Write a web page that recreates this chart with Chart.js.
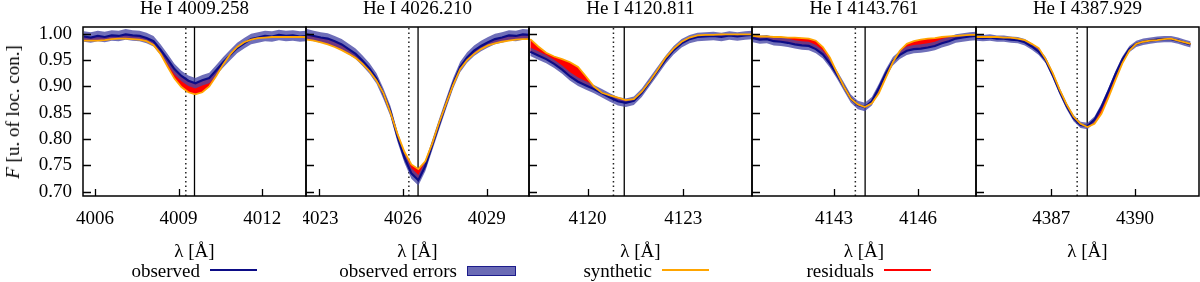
<!DOCTYPE html>
<html>
<head>
<meta charset="utf-8">
<title>He I line profiles</title>
<script src="https://cdn.jsdelivr.net/npm/chart.js@4.4.1/dist/chart.umd.min.js"></script>
<style>
  body { margin: 0; background: #fff; }
  #wrap { position: relative; width: 1200px; height: 282px; overflow: hidden;
          font-family: 'Liberation Serif', 'Times New Roman', serif; color: #000; }
  #wrap canvas { position: absolute; top: 0; }
  .ytitle { position: absolute; left: 13px; top: 112px; font-size: 19px; white-space: nowrap;
            transform: translate(-50%, -50%) rotate(-90deg); }
  .leg-text { position: absolute; top: 261px; font-size: 19px; line-height: 20px; white-space: nowrap; }
  .leg-swatch { position: absolute; width: 47px; }
</style>
</head>
<body>
<div id="wrap">
  <canvas id="p0"></canvas>
  <canvas id="p1"></canvas>
  <canvas id="p2"></canvas>
  <canvas id="p3"></canvas>
  <canvas id="p4"></canvas>
  <div class="ytitle"><i>F</i> [u. of loc. con.]</div>
</div>

<script>
/* ================================================================
   He I line profiles: observed vs synthetic, five panels
   ================================================================ */

// ============ DATA ============
var titles   = ['He I 4009.258', 'He I 4026.210', 'He I 4120.811', 'He I 4143.761', 'He I 4387.929'];
var labLines = [4009.258, 4026.210, 4120.811, 4143.761, 4387.929];
var rvLines  = [4009.57, 4026.54, 4121.15, 4144.11, 4388.29];
var xMins    = [4005.57, 4022.52, 4118.16, 4140.07, 4384.30];
var xMaxs    = [4013.57, 4030.52, 4125.16, 4148.07, 4392.30];
var xTicks   = [[4006, 4009, 4012], [4023, 4026, 4029], [4120, 4123], [4143, 4146], [4387, 4390]];
var yTicks   = [0.70, 0.75, 0.80, 0.85, 0.90, 0.95, 1.00];
var yMin = 0.692, yMax = 1.013;
var obsErr   = [0.010, 0.010, 0.008, 0.008, 0.006];
var legendLabels = ['observed', 'observed errors', 'synthetic', 'residuals'];

var wl4009  = [4005.60, 4005.85, 4006.10, 4006.35, 4006.60, 4006.85, 4007.10, 4007.35, 4007.60, 4007.85, 4008.10,
               4008.35, 4008.60, 4008.85, 4009.10, 4009.35, 4009.60, 4009.85, 4010.10, 4010.35, 4010.60, 4010.85,
               4011.10, 4011.35, 4011.60, 4011.85, 4012.10, 4012.35, 4012.60, 4012.85, 4013.10, 4013.35, 4013.60];
var obs4009 = [0.995, 0.993, 0.996, 0.994, 0.997, 0.996, 0.999, 0.997, 0.996, 0.992, 0.986,
               0.970, 0.952, 0.933, 0.920, 0.911, 0.906, 0.912, 0.916, 0.931, 0.946, 0.960,
               0.973, 0.982, 0.990, 0.993, 0.996, 0.995, 0.998, 0.996, 0.997, 0.995, 0.996];
var syn4009 = [0.987, 0.987, 0.987, 0.988, 0.990, 0.991, 0.991, 0.990, 0.989, 0.986, 0.979,
               0.962, 0.938, 0.915, 0.899, 0.889, 0.885, 0.889, 0.900, 0.920, 0.942, 0.961,
               0.975, 0.984, 0.989, 0.992, 0.993, 0.994, 0.994, 0.994, 0.994, 0.994, 0.994];

var wl4026  = [4022.55, 4022.80, 4023.05, 4023.30, 4023.55, 4023.80, 4024.05, 4024.30, 4024.55, 4024.80, 4025.05,
               4025.30, 4025.55, 4025.80, 4026.05, 4026.30, 4026.55, 4026.80, 4027.05, 4027.30, 4027.55, 4027.80,
               4028.05, 4028.30, 4028.55, 4028.80, 4029.05, 4029.30, 4029.55, 4029.80, 4030.05, 4030.30, 4030.55];
var obs4026 = [0.999, 0.996, 0.993, 0.991, 0.986, 0.980, 0.971, 0.962, 0.949, 0.934, 0.915,
               0.886, 0.853, 0.805, 0.765, 0.735, 0.722, 0.749, 0.789, 0.829, 0.868, 0.906,
               0.937, 0.955, 0.968, 0.977, 0.984, 0.990, 0.993, 0.997, 0.996, 0.999, 0.998];
var syn4026 = [0.989, 0.987, 0.984, 0.980, 0.975, 0.969, 0.962, 0.954, 0.943, 0.929, 0.911,
               0.887, 0.850, 0.810, 0.776, 0.752, 0.743, 0.758, 0.792, 0.832, 0.868, 0.903,
               0.933, 0.950, 0.962, 0.971, 0.978, 0.982, 0.985, 0.987, 0.989, 0.990, 0.990];

var wl4120  = [4118.20, 4118.45, 4118.70, 4118.95, 4119.20, 4119.45, 4119.70, 4119.95, 4120.20, 4120.45,
               4120.70, 4120.95, 4121.20, 4121.45, 4121.70, 4121.95, 4122.20, 4122.45, 4122.70, 4122.95,
               4123.20, 4123.45, 4123.70, 4123.95, 4124.20, 4124.45, 4124.70, 4124.95, 4125.20];
var obs4120 = [0.966, 0.959, 0.952, 0.943, 0.932, 0.919, 0.909, 0.902, 0.895, 0.887,
               0.879, 0.872, 0.869, 0.873, 0.888, 0.909, 0.930, 0.951, 0.969, 0.982,
               0.990, 0.994, 0.995, 0.996, 0.994, 0.997, 0.995, 0.997, 0.998];
var syn4120 = [0.990, 0.976, 0.964, 0.957, 0.952, 0.946, 0.937, 0.919, 0.900, 0.888,
               0.883, 0.879, 0.874, 0.876, 0.890, 0.910, 0.932, 0.955, 0.972, 0.985,
               0.993, 0.997, 0.998, 0.998, 0.999, 0.999, 0.999, 0.999, 0.999];

var wl4143  = [4140.10, 4140.35, 4140.60, 4140.85, 4141.10, 4141.35, 4141.60, 4141.85, 4142.10, 4142.35, 4142.60,
               4142.85, 4143.10, 4143.35, 4143.60, 4143.85, 4144.10, 4144.35, 4144.60, 4144.85, 4145.10, 4145.35,
               4145.60, 4145.85, 4146.10, 4146.35, 4146.60, 4146.85, 4147.10, 4147.35, 4147.60, 4147.85, 4148.10];
var obs4143 = [0.992, 0.989, 0.990, 0.986, 0.985, 0.983, 0.980, 0.978, 0.977, 0.971, 0.961,
               0.944, 0.923, 0.900, 0.877, 0.865, 0.861, 0.872, 0.897, 0.925, 0.948, 0.960,
               0.968, 0.971, 0.972, 0.974, 0.977, 0.982, 0.986, 0.991, 0.993, 0.995, 0.996];
var syn4143 = [0.996, 0.995, 0.995, 0.994, 0.994, 0.993, 0.993, 0.992, 0.991, 0.987, 0.975,
               0.955, 0.927, 0.900, 0.877, 0.866, 0.861, 0.868, 0.887, 0.917, 0.946, 0.968,
               0.981, 0.986, 0.989, 0.991, 0.992, 0.994, 0.995, 0.996, 0.997, 0.998, 0.998];

var wl4387  = [4384.30, 4384.55, 4384.80, 4385.05, 4385.30, 4385.55, 4385.80, 4386.05, 4386.30, 4386.55, 4386.80,
               4387.05, 4387.30, 4387.55, 4387.80, 4388.05, 4388.30, 4388.55, 4388.80, 4389.05, 4389.30, 4389.55,
               4389.80, 4390.05, 4390.30, 4390.55, 4390.80, 4391.05, 4391.30, 4391.55, 4391.80, 4392.00];
var obs4387 = [0.993, 0.992, 0.993, 0.991, 0.991, 0.989, 0.988, 0.984, 0.976, 0.966, 0.950,
               0.922, 0.891, 0.863, 0.840, 0.827, 0.825, 0.837, 0.861, 0.891, 0.923, 0.951,
               0.971, 0.981, 0.985, 0.987, 0.989, 0.990, 0.990, 0.987, 0.983, 0.980];
var syn4387 = [0.994, 0.994, 0.994, 0.994, 0.993, 0.993, 0.991, 0.988, 0.981, 0.973, 0.952,
               0.926, 0.894, 0.866, 0.843, 0.829, 0.823, 0.829, 0.848, 0.879, 0.912, 0.944,
               0.968, 0.981, 0.985, 0.987, 0.988, 0.990, 0.991, 0.987, 0.984, 0.981];

var wavelengths = [wl4009, wl4026, wl4120, wl4143, wl4387];
var observed    = [obs4009, obs4026, obs4120, obs4143, obs4387];
var synthetic   = [syn4009, syn4026, syn4120, syn4143, syn4387];

// ============ STYLE ============
var FONT = "'Liberation Serif', 'Times New Roman', serif";
var C_OBS = '#0c0c86', C_ERR = 'rgba(70, 70, 165, 0.78)', C_SYN = '#ffa500', C_RES = '#ff0000';
var edges = [83, 306, 529, 752, 976, 1199];   // panel frame x positions on the page

function pts(xs, ys) {
  return xs.map(function(x, k) { return { x: x, y: ys[k] }; });
}
function offset(ys, d) {
  return ys.map(function(v) { return v + d; });
}

// frame round the plot area plus gnuplot style inward ticks
var frameTicks = {
  id: 'frameTicks',
  afterDatasetsDraw: function(chart) {
    var ctx = chart.ctx, a = chart.chartArea;
    var xs = chart.scales.x, ys = chart.scales.y;
    ctx.save();
    ctx.strokeStyle = '#000';
    ctx.lineWidth = 1.3;
    ctx.beginPath();
    xs.ticks.forEach(function(t) {
      var px = Math.round(xs.getPixelForValue(t.value)) + 0.5;
      ctx.moveTo(px, a.bottom); ctx.lineTo(px, a.bottom - 7);
    });
    ys.ticks.forEach(function(t) {
      var py = Math.round(ys.getPixelForValue(t.value)) + 0.5;
      ctx.moveTo(a.left, py); ctx.lineTo(a.left + 8, py);
    });
    ctx.stroke();
    ctx.lineWidth = 1.5;
    ctx.strokeRect(a.left, a.top, a.right - a.left, a.bottom - a.top);
    ctx.restore();
  }
};

// ============ PANELS ============
function makePanel(i) {
  var cv = document.getElementById('p' + i);
  var left = i === 0 ? 0 : edges[i] - 3;
  var padL = i === 0 ? 0 : 3;
  var padR = i === 4 ? 1 : 3;
  var width = edges[i + 1] + padR - left;
  cv.width = width; cv.height = 282;
  cv.style.left = left + 'px';
  cv.style.width = width + 'px'; cv.style.height = '282px';

  var wl = wavelengths[i], obs = observed[i], syn = synthetic[i];

  new Chart(cv, {
    type: 'line',
    data: {
      datasets: [
        { label: 'synthetic', data: pts(wl, syn), borderColor: C_SYN, borderWidth: 1.8, fill: false, order: 1 },
        { label: 'observed', data: pts(wl, obs), borderColor: C_OBS, borderWidth: 2.2, fill: false, order: 2 },
        { label: 'observed errors', data: pts(wl, offset(obs, obsErr[i])), borderWidth: 0,
          backgroundColor: C_ERR, fill: 3, order: 3 },
        { label: 'errLo', data: pts(wl, offset(obs, -obsErr[i])), borderWidth: 0, fill: false, order: 3.5 },
        { label: 'residuals', data: pts(wl, syn), borderWidth: 0, backgroundColor: C_RES, fill: 1, order: 4 },
        { label: 'lab', data: [{ x: labLines[i], y: yMin }, { x: labLines[i], y: yMax }],
          borderColor: '#222', borderWidth: 1.5, borderDash: [1.5, 3], fill: false, order: 5 },
        { label: 'rv', data: [{ x: rvLines[i], y: yMin }, { x: rvLines[i], y: yMax }],
          borderColor: '#000', borderWidth: 1.3, fill: false, order: 5 }
      ]
    },
    options: {
      responsive: false,
      animation: false,
      events: [],
      elements: { point: { radius: 0 }, line: { tension: 0 } },
      layout: { padding: { left: padL, right: padR, top: 0, bottom: 0 } },
      plugins: {
        legend: { display: false },
        tooltip: { enabled: false },
        title: {
          display: true, text: titles[i], fullSize: false, color: '#000',
          font: { family: FONT, size: 19, weight: 'normal', lineHeight: 1 },
          padding: { top: 0, bottom: 8 }
        }
      },
      scales: {
        x: {
          type: 'linear', min: xMins[i], max: xMaxs[i],
          grid: { display: false, drawTicks: false },
          border: { display: false },
          afterBuildTicks: function(s) { s.ticks = xTicks[i].map(function(v) { return { value: v }; }); },
          afterFit: function(s) {
            // fixed axis band; no extra room for labels near the frame
            s.height = 86;
            s.paddingLeft = 0; s.paddingRight = 0;
          },
          ticks: {
            color: '#000', padding: 12, maxRotation: 0, autoSkip: false,
            font: { family: FONT, size: 19 },
            callback: function(v) { return String(v); }
          },
          title: {
            display: true, text: 'λ [Å]', color: '#000',
            font: { family: FONT, size: 19 },
            padding: { top: 0, bottom: 19 }
          }
        },
        y: {
          min: yMin, max: yMax,
          grid: { display: false, drawTicks: false },
          border: { display: false },
          afterBuildTicks: function(s) { s.ticks = yTicks.map(function(v) { return { value: v }; }); },
          afterFit: function(s) {
            s.width = i === 0 ? 83 : 0;
            s.paddingTop = 0; s.paddingBottom = 0;
          },
          ticks: {
            display: i === 0, color: '#000', padding: 11,
            font: { family: FONT, size: 19 },
            callback: function(v) { return Number(v).toFixed(2); }
          }
        }
      }
    },
    plugins: [frameTicks]
  });
}

// ============ LEGEND ============
function makeLegend() {
  var wrap = document.getElementById('wrap');
  var swatchX = [210, 467, 662, 884];
  var kinds = ['line', 'box', 'line', 'line'];
  var colors = [C_OBS, '#6b6bb5', C_SYN, C_RES];

  legendLabels.forEach(function(lbl, k) {
    var t = document.createElement('div');
    t.className = 'leg-text';
    t.textContent = lbl;
    t.style.right = (1200 - swatchX[k] + 10) + 'px';
    wrap.appendChild(t);

    var s = document.createElement('div');
    s.className = 'leg-swatch';
    s.style.left = swatchX[k] + 'px';
    if (kinds[k] === 'box') {
      s.style.top = '266px'; s.style.height = '8px';
      s.style.background = colors[k];
      s.style.border = '1px solid #1c1c8c';
    } else {
      s.style.top = '269px'; s.style.height = '2px';
      s.style.background = colors[k];
    }
    wrap.appendChild(s);
  });
}

for (var i = 0; i < 5; i++) makePanel(i);
makeLegend();
</script>
</body>
</html>
